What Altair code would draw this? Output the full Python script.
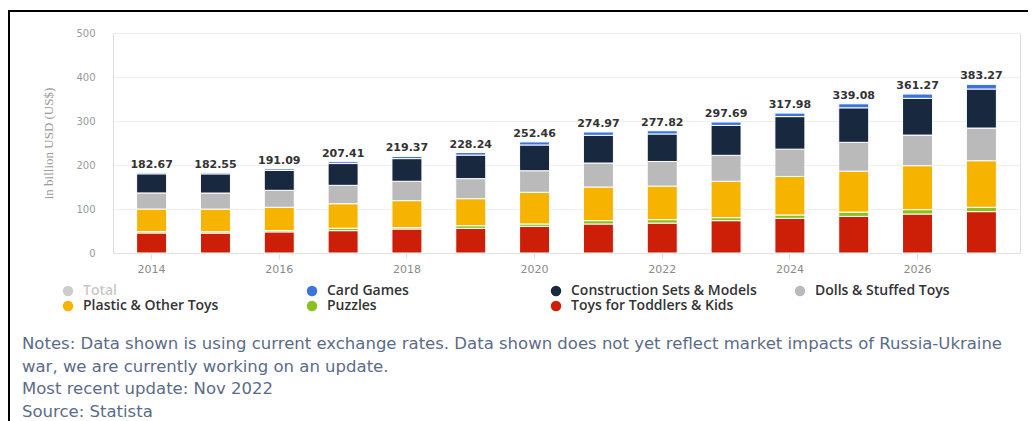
import altair as alt
import pandas as pd

years = list(range(2014, 2028))
totals = [182.67, 182.55, 191.09, 207.41, 219.37, 228.24, 252.46, 274.97,
          277.82, 297.69, 317.98, 339.08, 361.27, 383.27]
toddlers = [45.5, 45.3, 48.0, 50.8, 54.5, 56.0, 60.6, 65.9, 68.0, 73.5, 78.8, 83.3, 88.6, 94.0]
puzzles = [3.0, 3.0, 3.0, 5.5, 3.1, 6.0, 5.4, 7.6, 7.8, 6.8, 7.6, 9.7, 9.9, 9.8]
plastic = [51.5, 51.5, 53.0, 55.7, 61.4, 61.5, 72.0, 76.5, 76.2, 82.7, 87.6, 93.0, 100.0, 106.0]
dolls = [36.5, 36.5, 38.5, 41.8, 44.0, 45.5, 49.0, 54.5, 56.0, 59.0, 62.0, 65.5, 69.5, 74.2]
construction = [43.5, 43.6, 45.0, 49.5, 51.5, 53.5, 58.5, 63.0, 62.5, 68.0, 74.0, 78.5, 83.5, 88.7]
card = [2.67, 2.65, 3.59, 4.11, 4.87, 5.74, 6.96, 7.47, 7.32, 7.69, 7.98, 9.08, 9.77, 10.57]

legend_order = ["Total", "Card Games", "Construction Sets & Models", "Dolls & Stuffed Toys",
                "Plastic & Other Toys", "Puzzles", "Toys for Toddlers & Kids"]
legend_colors = ["#cccccc", "#3b74dd", "#17283f", "#bababa", "#f6b400", "#8dbf1f", "#cd1e07"]

stack_series = [
    ("Toys for Toddlers & Kids", toddlers),
    ("Puzzles", puzzles),
    ("Plastic & Other Toys", plastic),
    ("Dolls & Stuffed Toys", dolls),
    ("Construction Sets & Models", construction),
    ("Card Games", card),
]

notes_lines = ["Notes: Data shown is using current exchange rates. Data shown does not yet reflect market impacts of Russia-Ukraine",
               "war, we are currently working on an update.",
               "Most recent update: Nov 2022",
               "Source: Statista"]

rows = []
for k, (name, vals) in enumerate(stack_series):
    for y, v in zip(years, vals):
        rows.append({"year": y, "segment": name, "value": v, "order": k})
df = pd.DataFrame(rows)
tot_df = pd.DataFrame({"year": years, "total": totals})

x_enc = alt.X("year:O",
              scale=alt.Scale(paddingInner=0.53, paddingOuter=0.37),
              axis=alt.Axis(values=[2014, 2016, 2018, 2020, 2022, 2024, 2026], labelAngle=0,
                            title=None, domainColor="#dde1ec", tickColor="#dde1ec", tickSize=6,
                            labelColor="#8a8a8a", labelFont="DejaVu Sans", labelFontSize=11,
                            labelPadding=4, grid=False))

bars = alt.Chart(df).mark_bar(stroke="white", strokeWidth=1).encode(
    x=x_enc,
    y=alt.Y("value:Q", stack="zero",
            scale=alt.Scale(domain=[0, 500]),
            axis=alt.Axis(values=[0, 100, 200, 300, 400, 500], title="in billion USD (US$)",
                          titleColor="#9a9a9a", titleFont="Liberation Sans Narrow",
                          titleFontSize=13, titleFontWeight="normal", titlePadding=20,
                          labelColor="#9a9a9a", labelFont="DejaVu Sans", labelFontSize=10,
                          labelPadding=18, domain=False, ticks=False, gridColor="#eeeeee")),
    color=alt.Color("segment:N",
                    scale=alt.Scale(domain=legend_order, range=legend_colors),
                    legend=alt.Legend(orient="none", legendX=-52, legendY=251, columns=4,
                                      direction="horizontal",
                                      gridAlign="all", columnPadding=36, rowPadding=1,
                                      symbolType="circle", symbolSize=110, symbolStrokeWidth=0,
                                      labelFont="Open Sans", labelFontSize=14, labelFontWeight=600,
                                      labelLimit=300,
                                      labelColor=alt.ExprRef("datum.label == 'Total' ? '#c8c8c8' : '#333333'"),
                                      labelOffset=8, title=None)),
    order=alt.Order("order:Q", sort="ascending"),
)

labels = alt.Chart(tot_df).mark_text(dy=-8, font="DejaVu Sans", fontSize=11, fontWeight="bold",
                                     color="#333333").encode(
    x=alt.X("year:O"),
    y=alt.Y("total:Q"),
    text=alt.Text("total:Q", format=".2f"),
)

frame_df = pd.DataFrame({"k": [0]})
top_line = alt.Chart(frame_df).mark_rule(color="#000000", strokeWidth=2).encode(
    x=alt.value(-105), x2=alt.value(915), y=alt.value(-22))
left_line = alt.Chart(frame_df).mark_rule(color="#000000", strokeWidth=2).encode(
    x=alt.value(-104), y=alt.value(-22), y2=alt.value(390))

chart = alt.layer(bars, labels, top_line, left_line).properties(
    width=907, height=220,
    autosize=alt.AutoSizeParams(type="none"),
    padding={"left": 105, "top": 25, "right": 8, "bottom": 168},
    title=alt.TitleParams(text=notes_lines, orient="bottom", anchor="start",
                          frame="group", dx=-91, offset=-88, font="DejaVu Sans", fontSize=16.5,
                          fontWeight="normal", color="#5b6b88", lineHeight=22.7),
).configure_view(stroke=None).configure(background="white")

chart.save("out.html", embed_options={"renderer": "svg", "actions": False})
